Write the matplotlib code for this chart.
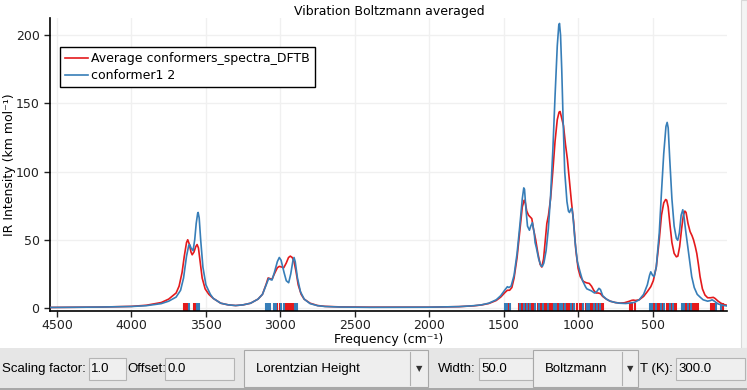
import matplotlib.pyplot as plt
import matplotlib.patches as patches

# Spectrum (frequency in cm-1, intensity in km/mol)
avg_freq = [4545, 4200, 4000, 3900, 3800, 3750, 3700, 3680, 3660, 3645, 3630, 3622, 3612, 3600,
            3592, 3580, 3568, 3559, 3550, 3540, 3525, 3505, 3480, 3450, 3400, 3350, 3300, 3250,
            3200, 3150, 3120, 3095, 3082, 3070, 3056, 3040, 3020, 3007, 2990, 2977, 2960, 2945,
            2933, 2920, 2908, 2895, 2880, 2860, 2840, 2800, 2750, 2700, 2600, 2400, 2000, 1800,
            1700, 1650, 1600, 1550, 1520, 1490, 1475, 1460, 1445, 1430, 1410, 1390, 1375, 1362,
            1356, 1345, 1333, 1320, 1311, 1300, 1285, 1270, 1255, 1244, 1232, 1220, 1210, 1199,
            1185, 1170, 1155, 1140, 1128, 1121, 1112, 1098, 1085, 1072, 1060, 1045, 1030, 1015,
            1000, 985, 965, 945, 925, 910, 895, 880, 865, 850, 835, 810, 785, 750, 720, 690,
            660, 640, 629, 615, 590, 560, 535, 512, 495, 475, 455, 440, 425, 412, 405, 395,
            385, 370, 355, 340, 330, 318, 305, 293, 283, 275, 262, 248, 235, 225, 213, 203,
            192, 181, 165, 148, 130, 110, 92, 80, 60, 40, 20, 0]
avg_int = [0.4, 0.7, 1.2, 2.0, 4.0, 6.5, 11, 16, 26, 38, 48, 50, 47, 41,
           39, 41, 45, 46.5, 44, 35, 22, 14, 10, 7, 3.5, 2.3, 1.8, 2.3,
           3.5, 6.5, 10, 17.5, 22, 21.5, 21, 25, 29.5, 30.5, 30, 29.5, 33, 37,
           38, 37, 34, 27, 17, 10, 6.5, 3.5, 1.8, 1.2, 0.8, 0.6, 0.6, 1.0,
           1.6, 2.2, 3.3, 5.5, 8, 11.5, 13, 13, 15, 22, 37, 58, 74, 79,
           78, 71, 68, 66.5, 65.5, 58, 50, 40, 32, 30, 36, 50, 62, 68,
           80, 100, 122, 138, 143.5, 144, 140, 133.5, 120, 109, 95, 78, 63, 42,
           29, 23, 19.5, 18.5, 18, 16, 13, 11, 11, 10.5, 8.5, 6.5, 5, 4, 3.6, 3.8,
           4.8, 5.6, 5.8, 5.5, 6, 8.5, 12, 15.6, 20, 30, 50, 68, 77, 79.5, 79, 74,
           63, 48, 40, 37.5, 38, 45, 58, 68, 71, 70, 62, 56, 53, 50, 45, 40,
           32, 23, 14, 9.5, 7.5, 7.5, 7.8, 7, 5, 3.5, 2.5, 2]

conf_freq = [4545, 4200, 4000, 3900, 3800, 3750, 3700, 3670, 3650, 3630, 3615, 3609, 3600, 3586,
             3575, 3565, 3555, 3552, 3545, 3535, 3520, 3500, 3470, 3450, 3400, 3350, 3300, 3250,
             3200, 3150, 3120, 3095, 3078, 3065, 3056, 3040, 3020, 3007, 2995, 2975, 2960, 2944,
             2930, 2915, 2908, 2900, 2885, 2865, 2840, 2800, 2750, 2700, 2600, 2400, 2000, 1800,
             1700, 1650, 1600, 1550, 1520, 1490, 1475, 1465, 1450, 1430, 1410, 1390, 1375, 1365,
             1360, 1350, 1340, 1327, 1318, 1307, 1295, 1289, 1280, 1265, 1250, 1240, 1230, 1215,
             1200, 1185, 1170, 1155, 1140, 1130, 1125, 1118, 1110, 1100, 1090, 1075, 1065, 1058,
             1048, 1042, 1035, 1020, 1005, 987, 970, 950, 941, 930, 910, 890, 875, 860, 850, 835,
             810, 785, 750, 720, 680, 640, 620, 590, 560, 535, 520, 512, 500, 490, 475, 455,
             440, 425, 410, 402, 395, 385, 370, 355, 340, 331, 320, 308, 297, 290, 278, 266,
             250, 237, 220, 200, 181, 160, 130, 110, 100, 85, 60, 30, 0]
conf_int = [0.4, 0.7, 1.1, 1.7, 3.2, 5, 8, 13, 22, 38, 46, 46.5, 44, 42,
            50, 62, 69.5, 70, 66, 50, 30, 17, 10, 7, 3.5, 2.3, 1.8, 2.3,
            3.5, 6.5, 10, 17, 21.7, 20.8, 20.5, 26, 34, 37, 35, 26, 20, 18.5,
            25, 35, 37, 34, 22, 12, 6.5, 3.2, 1.7, 1.1, 0.7, 0.5, 0.6, 1.0,
            1.7, 2.3, 3.5, 6, 9, 13.5, 15.6, 15, 16, 24, 40, 62, 80, 88,
            87, 72, 60, 57, 60, 62.5, 55, 48, 44, 36, 31, 30.5, 33, 42,
            58, 82, 115, 155, 192, 207, 208.5, 200, 175, 135, 100, 78, 71, 70,
            72.5, 73, 68, 48, 34, 26.5, 20, 15.5, 14, 13.5, 12.5, 11, 12, 14.4, 13.5, 9,
            6.5, 5, 4, 3.5, 3.3, 3.8, 4.2, 6, 10, 17, 24, 26.5, 24, 23, 30, 55,
            85, 113, 133, 136, 132, 110, 80, 60, 51, 49.6, 55, 68, 72, 68, 57, 47,
            34, 23, 15, 10, 8, 6, 5, 5.5, 6, 5, 3, 2, 1.5]

# Stick positions (frequencies of the individual modes)
avg_sticks = [3648, 3640, 3628, 3582, 3572,
              3090, 3035, 3020, 3005, 2965, 2950, 2935, 2920, 2905,
              1485, 1470, 1395, 1380, 1370, 1355, 1345, 1330, 1318, 1300, 1270, 1255, 1240,
              1220, 1210, 1195, 1180, 1170, 1140, 1130, 1115, 1100, 1090, 1080, 1070, 1060,
              1050, 1040, 1025, 1010, 990, 975, 950, 935, 915, 900, 880, 860, 845, 835,
              650, 640, 620, 512, 500, 490, 475, 465, 455, 440, 430, 405, 395, 385, 370, 355,
              345, 280, 270, 255, 245, 230, 220, 210, 198, 110, 100, 85, 25]
conf_sticks = [3612, 3560, 3548,
               3095, 3080, 3068, 3040, 3028, 2995, 2975, 2900, 2885,
               1490, 1478, 1460, 1392, 1365, 1340, 1325, 1290, 1262, 1235, 1200, 1160, 1150,
               1120, 1105, 1085, 1045, 1030, 970, 940, 925, 890, 870, 850,
               520, 505, 480, 445, 420, 380, 360, 300, 290, 262, 240, 75, 40]

x_ticks = [4500, 4000, 3500, 3000, 2500, 2000, 1500, 1000, 500]
y_ticks = [0, 50, 100, 150, 200]

RED = "#e41a1c"
BLUE = "#377eb8"
W, H = 747, 390


def fx(px):
    return px / W


def fy(py):
    return 1 - py / H


fig = plt.figure(figsize=(W / 100, H / 100), dpi=100)
fig.patch.set_facecolor("white")

ax = fig.add_axes([fx(50), fy(311), fx(727) - fx(50), fy(18) - fy(311)])

ax.plot(avg_freq, avg_int, color=RED, lw=1.2, label="Average conformers_spectra_DFTB", zorder=3)
ax.plot(conf_freq, conf_int, color=BLUE, lw=1.2, label="conformer1 2", zorder=4)

# Sticks along the bottom
ax.vlines(avg_sticks, -2.2, 3.4, colors=RED, lw=1.5, zorder=2)
ax.vlines(conf_sticks, -2.2, 3.4, colors=BLUE, lw=1.5, zorder=2)

ax.set_xlim(4547, 0)
ax.set_ylim(-2.2, 212.5)
ax.set_xticks(x_ticks)
ax.set_yticks(y_ticks)
ax.grid(True, color="#f0f0f0", lw=1)
ax.set_axisbelow(True)
for s in ["top", "right"]:
    ax.spines[s].set_visible(False)
for s in ["left", "bottom"]:
    ax.spines[s].set_linewidth(1.2)
ax.tick_params(labelsize=9, length=4, width=1, colors="#222222")
ax.tick_params(axis="x", pad=2)

leg = ax.legend(loc="upper left", bbox_to_anchor=(10 / 677, (311 - 47) / 293), borderaxespad=0,
                fancybox=False, edgecolor="black", framealpha=1, fontsize=9,
                handlelength=1.8, handletextpad=0.3, labelspacing=0.35, borderpad=0.4)
leg.get_frame().set_linewidth(1)

fig.text(fx(389), fy(11), "Vibration Boltzmann averaged", ha="center", va="center", fontsize=9)
fig.text(fx(389), fy(340), "Frequency (cm\u207b\u00b9)", ha="center", va="center", fontsize=9)
fig.text(fx(10), fy(165), "IR Intensity (km mol\u207b\u00b9)", ha="center", va="center",
         rotation=90, fontsize=9)

# Right scroll strip
fig.patches.append(patches.Rectangle((fx(741), fy(348)), fx(6), fy(0) - fy(348),
                                     transform=fig.transFigure, facecolor="#f4f4f4",
                                     edgecolor="#d8d8d8", lw=0.8))

# Control panel at the bottom
fig.patches.append(patches.Rectangle((0, 0), 1, fy(348), transform=fig.transFigure,
                                     facecolor="#e6e6e6", edgecolor="none"))
fig.patches.append(patches.Rectangle((0, 0), 1, fy(388), transform=fig.transFigure,
                                     facecolor="#a8a8a8", edgecolor="none"))

panel_font = ["Liberation Sans", "DejaVu Sans"]


def box(x0, x1, y0, y1, face="#efefef", edge="#b4b4b4"):
    fig.patches.append(patches.Rectangle((fx(x0), fy(y1)), fx(x1) - fx(x0), fy(y0) - fy(y1),
                                         transform=fig.transFigure, facecolor=face,
                                         edgecolor=edge, lw=0.8))


def label(x, text, ha="left"):
    fig.text(fx(x), fy(369), text, ha=ha, va="center", fontsize=9.5, family=panel_font)


label(2, "Scaling factor:")
box(89, 126, 358, 380)
label(91, "1.0")
label(127, "Offset:")
box(165, 234, 358, 380)
label(167, "0.0")

box(244, 428, 350, 387, face="#eeeeee", edge="#a8a8a8")
fig.lines.append(plt.Line2D([fx(410), fx(410)], [fy(352), fy(385)], transform=fig.transFigure,
                            color="#b0b0b0", lw=0.8))
label(256, "Lorentzian Height")
fig.text(fx(419), fy(369), "\u25bc", ha="center", va="center", fontsize=6, color="#333333")

label(438, "Width:")
box(479, 533, 358, 380)
label(481, "50.0")

box(533, 638, 350, 387, face="#eeeeee", edge="#a8a8a8")
fig.lines.append(plt.Line2D([fx(622), fx(622)], [fy(352), fy(385)], transform=fig.transFigure,
                            color="#b0b0b0", lw=0.8))
label(545, "Boltzmann")
fig.text(fx(630), fy(369), "\u25bc", ha="center", va="center", fontsize=6, color="#333333")

label(640, "T (K):")
box(676, 745, 358, 380)
label(678, "300.0")

fig.savefig("out.png", dpi=100)
